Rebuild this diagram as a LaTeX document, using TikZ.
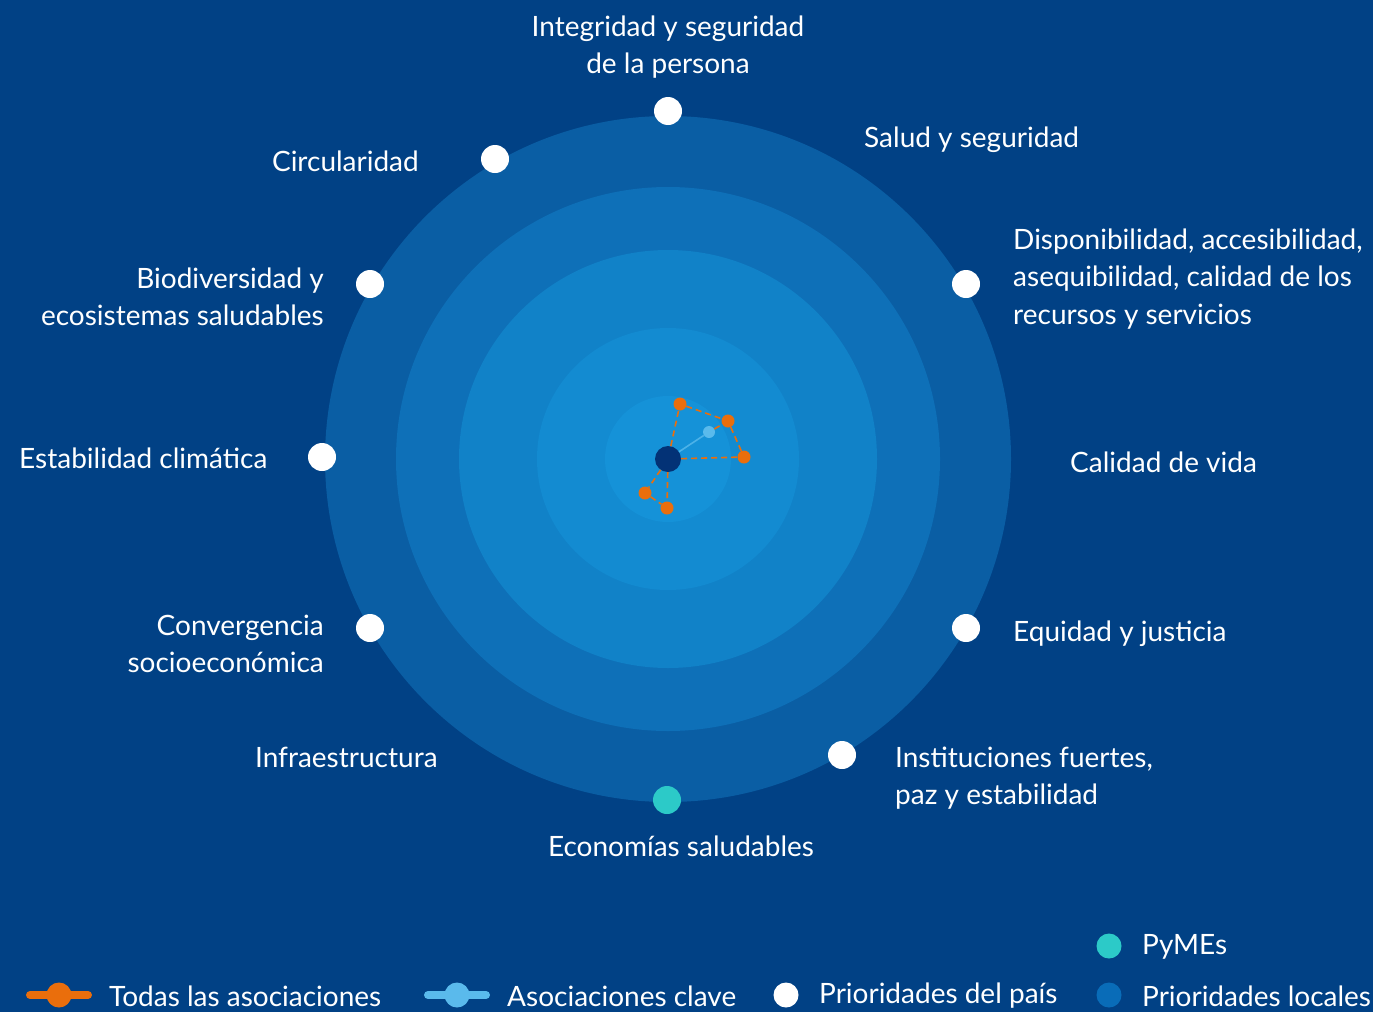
\documentclass[tikz,border=0pt]{standalone}
\usepackage{fontspec}
\setmainfont{Lato}
\begin{document}
\begin{tikzpicture}[x=1pt,y=-1pt,
  lbl/.style={text=white,inner sep=0pt,font=\fontsize{28}{37.5}\selectfont},
  wdot/.style={circle,fill=white,minimum size=28pt,inner sep=0pt},
  odot/.style={circle,fill=orng,minimum size=13pt,inner sep=0pt},
  oedge/.style={draw=orng,line width=1.6pt,dash pattern=on 6pt off 4pt},
  legline/.style={line width=8pt,line cap=round},
  legdot/.style={circle,minimum size=25pt,inner sep=0pt},
]
\definecolor{bg}{RGB}{1,65,133}
\definecolor{ringA}{RGB}{10,94,164}
\definecolor{ringB}{RGB}{14,112,184}
\definecolor{ringC}{RGB}{17,130,200}
\definecolor{ringD}{RGB}{19,139,209}
\definecolor{ringE}{RGB}{21,146,216}
\definecolor{navy}{RGB}{3,50,118}
\definecolor{orng}{RGB}{234,110,12}
\definecolor{lblue}{RGB}{90,186,236}
\definecolor{teal}{RGB}{44,202,200}
\definecolor{locblue}{RGB}{9,108,184}
\fill[bg] (0,0) rectangle (1373,1012);
\useasboundingbox (0,0) rectangle (1373,1012);
\coordinate (c) at (668,459);
\fill[ringA] (c) circle[radius=343];
\fill[ringB] (c) circle[radius=272];
\fill[ringC] (c) circle[radius=209];
\fill[ringD] (c) circle[radius=131];
\fill[ringE] (c) circle[radius=63];
% priority dots
\node[wdot] (d90) at (668,111) {};
\node[wdot] (d120) at (495,159) {};
\node[wdot] (d150) at (370,284) {};
\node[wdot] (d180) at (322,457) {};
\node[wdot] (d210) at (370,628) {};
\node[wdot,fill=teal] (d270) at (667,800) {};
\node[wdot] (d300) at (842,755) {};
\node[wdot] (d330) at (966,628) {};
\node[wdot] (d30) at (966,284) {};
% labels
\node[lbl,align=center] (l90) at (668,47) {Integridad y seguridad\\de la persona};
\node[lbl,anchor=west] (l60) at (864,140) {Salud y seguridad};
\node[lbl,anchor=east] (l120) at (419,161) {Circularidad};
\node[lbl,anchor=east,align=right] (l150) at (324,297) {Biodiversidad y\\ecosistemas saludables};
\node[lbl,anchor=west,align=left] (l30) at (1013,279) {Disponibilidad, accesibilidad,\\asequibilidad, calidad de los\\recursos y servicios};
\node[lbl,anchor=west] (l180) at (19,458) {Estabilidad clim\'atica};
\node[lbl,anchor=west] (l0) at (1070,462) {Calidad de vida};
\node[lbl,anchor=east,align=right] (l210) at (324,644) {Convergencia\\socioecon\'omica};
\node[lbl,anchor=west] (l330) at (1013,634) {Equidad y justicia};
\node[lbl,anchor=west] (l240) at (255,757) {Infraestructura};
\node[lbl,anchor=west,align=left] (l300) at (895,778) {Instituciones fuertes,\\paz y estabilidad};
\node[lbl] (l270) at (681,846) {Econom\'ias saludables};
% network
\node[odot] (o1) at (680,404) {};
\node[odot] (o2) at (728,421) {};
\node[odot] (o3) at (744,457) {};
\node[odot] (o4) at (645,493) {};
\node[odot] (o5) at (667,508) {};
\node[circle,fill=lblue,minimum size=12pt,inner sep=0pt] (k1) at (709,432) {};
\node[circle,fill=navy,minimum size=26pt,inner sep=0pt] (ctr) at (c) {};
\draw[oedge] (ctr) -- (o1);
\draw[oedge] (o1) -- (o2);
\draw[oedge] (o2) -- (o3);
\draw[oedge] (ctr) -- (o3);
\draw[oedge] (ctr) -- (o4);
\draw[oedge] (ctr) -- (o5);
\draw[oedge] (o4) -- (o5);
\draw[oedge] (k1) -- (o2);
\draw[draw=lblue!80!ringE,line width=1.6pt] (ctr) -- (k1);
% legend
\coordinate (la1) at (30,995); \coordinate (la2) at (88,995);
\draw[legline,orng] (la1) -- (la2);
\node[legdot,fill=orng] (ld1) at (59,995) {};
\node[lbl,anchor=west] (lt1) at (109,996) {Todas las asociaciones};
\coordinate (lb1) at (428,995); \coordinate (lb2) at (486,995);
\draw[legline,lblue] (lb1) -- (lb2);
\node[legdot,fill=lblue] (ld2) at (457,995) {};
\node[lbl,anchor=west] (lt2) at (507,996) {Asociaciones clave};
\node[legdot,fill=white] (ld3) at (786,995) {};
\node[lbl,anchor=west] (lt3) at (819,996) {Prioridades del pa\'is};
\node[legdot,fill=locblue] (ld4) at (1109,995) {};
\node[lbl,anchor=west] (lt4) at (1142,996) {Prioridades locales};
\node[legdot,fill=teal] (ld5) at (1109,946) {};
\node[lbl,anchor=west] (lt5) at (1142,947) {PyMEs};
\end{tikzpicture}
\end{document}
